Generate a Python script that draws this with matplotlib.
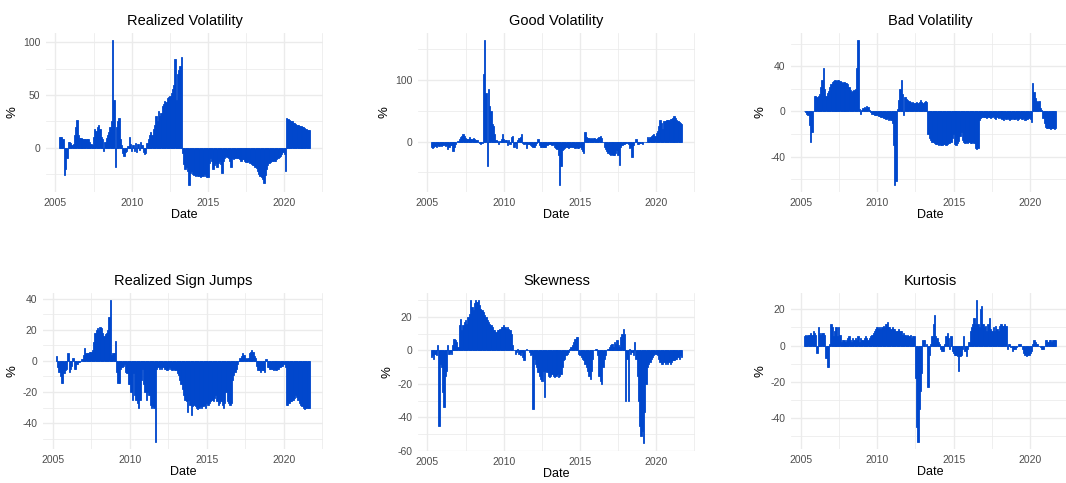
import pandas as pd
import matplotlib
matplotlib.use("Agg")
import matplotlib.pyplot as plt
import matplotlib.dates as mdates
from matplotlib.ticker import FixedLocator

plt.rcParams['font.family'] = ['Liberation Sans', 'DejaVu Sans']
plt.rcParams['axes.unicode_minus'] = False

# monthly observations, Apr 2005 .. Sep 2021
dates = pd.date_range("2005-04-01", "2021-09-01", freq="MS")

realized_vol = [
    10, 10, 10, 8, -26, -20, -10, 6, 6,
    5, 3, 4, 12, 20, 26, 12, 9, 9, 8, 8, 8,
    8, 8, 8, 6, 4, 3, 10, 18, 16, 20, 22, 18,
    10, 8, -3, 6, 9, 12, 15, 20, 25, 102, 45, -18,
    20, 25, 28, 8, 3, -5, -8, -4, -3, 2, 10, 4,
    -3, 3, -3, 5, -4, 4, -2, 6, 3, -4, -6, -5,
    5, 8, 12, 15, 12, 18, 22, 30, 25, 35, 30, 33,
    40, 42, 44, 43, 47, 48, 49, 52, 56, 60, 84, 45,
    70, 74, 78, 86, -5, -15, -20, -18, -22, -35, -24, -22,
    -25, -26, -27, -26, -27, -27, -28, -27, -27, -25, -27, -28,
    -28, -14, -10, -12, -20, -16, -14, -18, -14, -12, -15, -24,
    -12, -10, -8, -9, -10, -12, -18, -10, -11, -10, -10, -10,
    -10, -11, -12, -11, -11, -12, -13, -13, -12, -14, -15, -16,
    -16, -18, -19, -22, -25, -27, -28, -30, -33, -26, -20, -16,
    -14, -13, -12, -12, -12, -12, -11, -10, -9, -8, -6, -4,
    -6, -22, 28, 27, 26, 25, 25, 24, 24, 23, 22, 22,
    21, 21, 20, 20, 19, 18, 17, 17, 17,
]

good_vol = [
    -8, -10, -8, -7, -8, -6, -7, -6, -7,
    -6, -5, -7, -6, -12, -9, -5, -6, -15, -8, -4, -1,
    1, 5, 8, 10, 12, 10, 6, 5, 4, 7, 4, 5,
    6, 4, 3, 2, 0, -2, -3, -2, 110, 165, 80, -40,
    85, 58, 50, 28, 25, 12, 2, 1, -4, 1, 5, 12,
    4, 2, 2, -5, 3, -3, 8, 10, -8, -2, -11, 2,
    6, 8, 12, -2, -3, -2, -10, -3, -4, -5, -7, -8,
    -8, -6, -2, 5, -5, -9, -8, -9, -8, -8, -6, -4,
    -3, -4, -5, -4, -8, -10, -12, -22, -70, -40, -14, -12,
    -10, -8, -9, -10, -9, -9, -8, -9, -10, -9, -10, -10,
    -9, -12, -15, -18, 16, 8, 6, 6, 5, 6, 5, 6,
    5, 5, 6, 7, 10, 6, 0, -8, -12, -15, -18, -20,
    -21, -20, -22, -21, -18, -14, -22, -38, -8, -5, -4, -3,
    -2, -2, -4, -10, -8, -25, -5, 0, 5, -3, -4, -2,
    -2, -3, -1, 0, 0, 8, 5, 7, 9, 11, 12, 10,
    14, 18, 25, 35, 30, 20, 33, 34, 35, 36, 36, 37,
    37, 38, 41, 38, 36, 34, 32, 30, 29,
]

bad_vol = [
    0, -1, -2, -3, -12, -27, -18, 0, 14,
    14, 13, 14, 15, 22, 28, 38, 20, 14, 16, 18, 22,
    24, 26, 27, 28, 27, 28, 28, 27, 26, 25, 26, 25,
    25, 24, 22, 19, 17, 18, 19, 20, 38, 63, 2, -2,
    1, 3, 4, 3, 5, 4, 1, -1, -2, -2, -3, -3,
    -3, -4, -4, -5, -5, -6, -6, -7, -6, -8, -7, -8,
    -10, -30, -65, -62, 2, 10, 20, 28, 15, -3, 13, 11,
    10, 9, 8, 7, 8, 7, 7, 8, 7, 8, 10, 8,
    7, 8, 9, 8, -20, -24, -25, -27, -27, -28, -29, -29,
    -30, -29, -30, -30, -29, -29, -30, -29, -28, -28, -27, -24,
    -20, -29, -30, -28, -26, -22, -18, -25, -27, -28, -27, -28,
    -27, -28, -28, -27, -28, -32, -33, -32, -8, -6, -5, -5,
    -5, -5, -6, -5, -5, -6, -5, -4, -6, -7, -5, -6,
    -5, -6, -7, -8, -6, -7, -6, -7, -8, -7, -6, -7,
    -7, -6, -8, -7, -6, -7, -7, -6, -8, -7, -7, -6,
    -7, -9, 25, 17, 12, 9, 8, 9, 3, 1, -6, -10,
    -14, -15, -15, -15, -16, -15, -15, -16, -15,
]

sign_jumps = [
    3, -4, -7, -10, -14, -14, -8, -6, -5,
    5, -7, -5, -3, 2, -5, -5, -2, -1, -1, 0, 1,
    4, 8, 5, 5, 5, 6, 6, 7, 12, 18, 20, 21,
    20, 22, 21, 18, 16, 17, 18, 20, 28, 39, 4, 5,
    5, 13, -7, -14, -14, -5, -4, -3, -2, -7, -8, -15,
    -15, -20, -25, -8, -22, -25, -27, -30, -25, -12, -5, -15,
    -20, -25, -20, -22, -28, -30, -29, -30, -52, -5, -4, -5,
    -4, -5, -4, -5, -5, -6, -5, -4, -5, -6, -5, -6,
    -6, -8, -9, -12, -15, -18, -22, -25, -26, -33, -25, -28,
    -35, -29, -28, -29, -30, -31, -30, -29, -30, -29, -28, -30,
    -27, -28, -27, -26, -25, -26, -24, -22, -26, -28, -27, -26,
    -28, -30, -27, -20, -26, -27, -28, -27, -12, -9, -7, -5,
    -2, 0, 2, 3, 5, 4, 2, 1, 2, 5, 6, 7,
    6, 3, 2, -3, -6, -6, -7, -6, -6, -7, 1, -4,
    -4, -5, -5, -5, -6, -5, -6, -5, -5, -4, -3, -3,
    -2, -4, -28, -28, -27, -26, -26, -25, -24, -22, -23, -25,
    -27, -28, -29, -30, -31, -30, -30, -30, -30,
]

skewness = [
    -4, -3, -5, -2, -3, 3, -45, -8, -10,
    -25, -34, -15, -12, 3, -2, -1, -2, 3, 7, 6, 5,
    2, 15, 19, 12, 15, 17, 18, 16, 20, 22, 30, 26,
    24, 28, 30, 29, 30, 27, 25, 24, 23, 21, 20, 18,
    17, 16, 15, 14, 12, 12, 11, 12, 12, 13, 14, 14,
    15, 14, 13, 14, 13, 12, 10, 3, 0, -2, -1, 1,
    -2, -3, -1, -4, -6, 0, 1, 0, -1, -3, -2, -35,
    -5, -8, -10, -13, -15, -17, -18, -12, -28, -12, -13, -15,
    -16, -15, -14, -15, -16, -15, -14, -16, -15, -14, -10, -6,
    -5, -3, -2, -1, 1, 2, 3, 5, 7, 8, 8, -2,
    -3, -4, -5, -6, -8, -10, -12, -15, -17, -12, -5, 0,
    1, 1, -3, -15, -18, -20, -10, -5, -3, 0, 1, 2,
    3, 4, 2, 5, 4, 6, 3, 2, 8, 10, 13, 10,
    -30, -5, -30, 1, -2, -1, -3, 5, -5, -15, -30, -45,
    -51, -48, -55, -37, -20, -10, -8, -7, -5, -4, -3, -2,
    -2, -3, -5, -7, -8, -8, -7, -8, -7, -8, -7, -8,
    -7, -6, -6, -5, -5, -4, -5, -3, -4,
]

kurtosis = [
    5, 6, 5, 6, 6, 7, 6, 8, 7,
    6, -4, 10, 7, 6, 7, 7, 6, -7, -12, -12, 1,
    12, 10, 5, 8, 10, 5, 10, 6, 2, 3, 3, 2,
    3, 4, 5, 3, 2, 4, 3, 4, 3, 5, 2, 4,
    3, 3, 4, 5, 4, 3, 4, 5, 6, 7, 8, 9,
    10, 9, 10, 9, 10, 11, 10, 12, 13, 10, 10, 9,
    10, 9, 9, 8, 8, 9, 8, 8, 6, 7, 6, 5,
    6, 5, 6, 4, 5, 5, -18, -45, -53, -35, -25, -15,
    3, 3, 0, 1, -23, -5, 1, 5, 12, 17, 5, 4,
    2, 1, -2, -3, -3, 1, 5, 7, 4, -2, 5, -3,
    -4, -5, -5, -6, -14, -6, -5, -2, 5, -3, -6, -2,
    2, 8, 10, 12, 15, 12, 25, 12, 10, 20, 22, 12,
    10, 11, 8, 12, 15, 9, 8, 10, 8, 11, 9, 8,
    11, 12, 11, 11, 12, 11, -2, 1, 1, -1, -3, -2,
    -2, -1, 0, 1, 1, 0, -2, -4, -5, -6, -5, -5,
    -4, -3, 1, 3, 2, 1, 1, 0, -1, -2, -2, 0,
    3, 3, 2, 3, 3, 2, 3, 3, 3,
]

titles = ["Realized Volatility", "Good Volatility", "Bad Volatility",
          "Realized Sign Jumps", "Skewness", "Kurtosis"]
series = [realized_vol, good_vol, bad_vol, sign_jumps, skewness, kurtosis]

y_major = [[0, 50, 100], [0, 100], [-40, 0, 40],
           [-40, -20, 0, 20, 40], [-60, -40, -20, 0, 20], [-40, -20, 0, 20]]
y_minor = [[-25, 25, 75], [-50, 50, 150], [-60, -20, 20, 60],
           [-50, -30, -10, 10, 30], [-50, -30, -10, 10, 30], [-50, -30, -10, 10]]
x_minor = pd.to_datetime(["2002-07-02", "2007-07-02", "2012-07-02",
                          "2017-07-02", "2022-07-02"])

BLUE = "#0047CC"
GRID = "#EBEBEB"

W, H = 1066, 483
fig = plt.figure(figsize=(W / 100, H / 100), dpi=100)

# panel boxes in pixels: left, top, right, bottom
boxes = [(46, 33, 323, 192), (418, 33, 695, 192), (791, 33, 1069, 192),
         (43, 293, 323, 449), (418, 293, 695, 451), (791, 293, 1069, 449)]

for i, (l, t, r, b) in enumerate(boxes):
    ax = fig.add_axes([l / W, 1 - b / H, (r - l) / W, (b - t) / H])
    ax.bar(dates, series[i], width=31, color=BLUE, edgecolor=BLUE,
           linewidth=0.6, zorder=2)
    ax.margins(x=0.05, y=0.05)

    ax.xaxis.set_major_locator(mdates.YearLocator(5))
    ax.xaxis.set_major_formatter(mdates.DateFormatter("%Y"))
    ax.xaxis.set_minor_locator(FixedLocator(mdates.date2num(x_minor)))
    ax.set_yticks(y_major[i])
    ax.set_yticks(y_minor[i], minor=True)

    ax.set_axisbelow(True)
    ax.grid(which="major", color=GRID, linewidth=1.0)
    ax.grid(which="minor", color=GRID, linewidth=0.55)
    for s in ax.spines.values():
        s.set_visible(False)
    ax.tick_params(which="both", length=0)
    ax.tick_params(labelsize=7.5, labelcolor="#4D4D4D", pad=4)

    ax.set_title(titles[i], fontsize=10.5, pad=6)
    ax.set_xlabel("Date", fontsize=9, labelpad=1)
    ax.set_ylabel("%", fontsize=9.5, labelpad=3)

fig.savefig("out.png", dpi=100)
